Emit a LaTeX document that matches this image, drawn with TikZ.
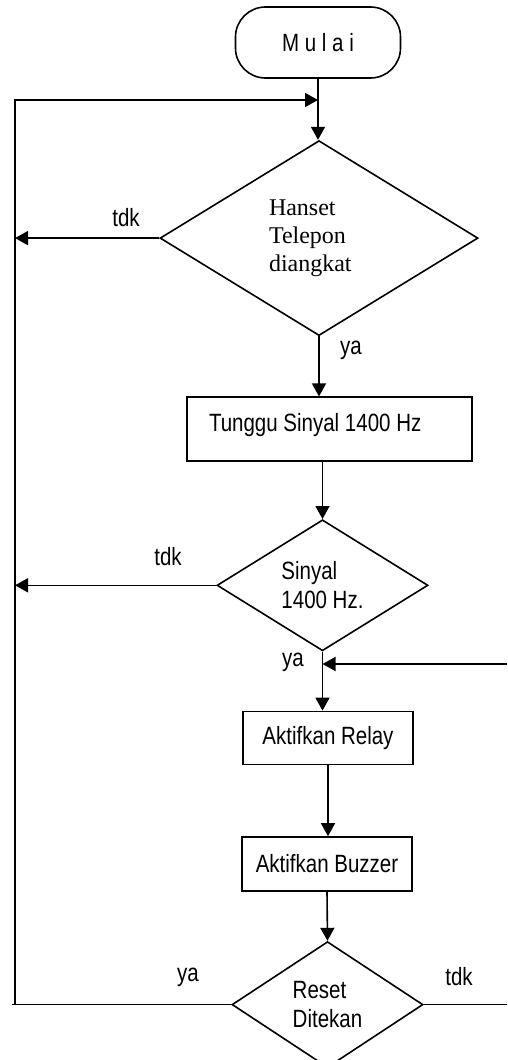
\documentclass[tikz,border=0pt]{standalone}
\usepackage{fontspec}
\setmainfont{Liberation Serif}
\newfontfamily\narrowsf[FakeStretch=0.82]{Liberation Sans}
\usetikzlibrary{arrows.meta,positioning,shapes.geometric}

\begin{document}
\begin{tikzpicture}[
    x=1pt, y=1pt, line width=1.6pt,
    arr/.style={-{Triangle[length=13pt,width=14pt]}},
    txt/.style={font=\narrowsf\fontsize{25}{29}\selectfont},
    term/.style={draw, txt, rounded corners=30pt, minimum width=165pt, minimum height=71pt},
    box/.style={draw, txt, inner sep=0pt},
    decision/.style={draw, diamond, aspect=1.5, inner sep=2pt, align=flush left},
  ]
  \useasboundingbox (0,0) rectangle (507,-1060);
  \node[term] (start) at (318,-42.5) {M u l a i};
  \node[decision, font=\fontsize{24}{28}\selectfont, text width=100pt,
        minimum width=318pt, minimum height=195pt,
        below=61pt of start, xshift=1pt] (hanset) {Hanset\\Telepon\\diangkat};
  \node[box, minimum height=64pt, text width=241pt, inner xsep=22pt, align=flush left,
        text height=18pt, text depth=14pt,
        below=60pt of hanset, xshift=10.5pt] (wait) {Tunggu Sinyal 1400 Hz};
  \node[decision, txt, minimum width=211pt, minimum height=131pt,
        below=57pt of wait, xshift=-7pt] (sinyal) {Sinyal\\1400 Hz.};
  \node[box, minimum width=170pt, minimum height=53pt,
        below=59pt of sinyal, xshift=5.5pt] (relay) {Aktifkan Relay};
  \node[box, minimum width=170pt, minimum height=54pt,
        below=71pt of relay, xshift=-1pt] (buzzer) {Aktifkan Buzzer};
  \node[decision, txt, minimum width=191pt, minimum height=126pt,
        below=49pt of buzzer, xshift=0.5pt] (reset) {Reset\\Ditekan};

  % labels on the branches
  \node[txt] (tdkA) at (126,-218) {tdk};
  \node[txt] (yaA) at (351,-350) {ya};
  \node[txt] (tdkB) at (168,-557) {tdk};
  \node[txt] (yaB) at (293,-662) {ya};
  \node[txt] (yaC) at (188,-977) {ya};
  \node[txt] (tdkC) at (459,-977) {tdk};

  \coordinate (railtop) at (15,-100);
  \coordinate (railbot) at (reset.west -| railtop);
  \coordinate (yaend) at ([xshift=-3pt]railbot);
  \coordinate (relayin) at (507,-664);
  \coordinate (tdkend) at (reset.east -| relayin);

  \draw[arr] (start.south) -- (start.south |- hanset.north);
  \draw[arr] (railbot) -- (railtop) -- (start.south |- railtop);
  \draw[arr] (hanset.west) -- (hanset.west -| railtop);
  \draw[arr] (hanset.south) -- (hanset.south |- wait.north);
  \draw[arr] (sinyal.north |- wait.south) -- (sinyal.north);
  \draw[arr] (sinyal.west) -- (sinyal.west -| railtop);
  \draw[arr] (sinyal.south) -- (sinyal.south |- relay.north);
  \draw[arr] (relayin) -- (relayin -| sinyal.south);
  \draw[arr] (relay.south) -- (relay.south |- buzzer.north);
  \draw[arr] (buzzer.south) -- (reset.north);
  \draw (reset.west) -- (yaend);
  \draw (reset.east) -- (tdkend);
\end{tikzpicture}
\end{document}
